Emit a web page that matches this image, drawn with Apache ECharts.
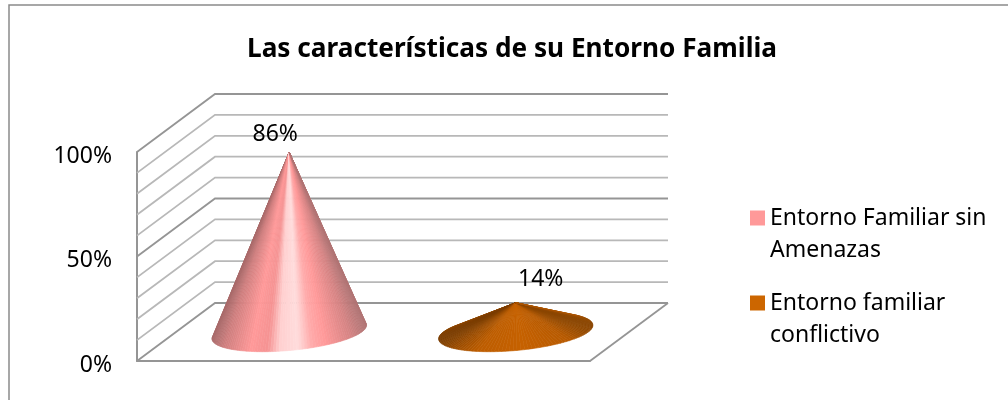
<!DOCTYPE html>
<html>
<head>
<meta charset="utf-8">
<style>
  html, body { margin: 0; padding: 0; background: #fff; }
  #main { width: 1008px; height: 400px; }
</style>
<script src="https://cdn.jsdelivr.net/npm/echarts@6/dist/echarts.min.js"></script>
</head>
<body>
<div id="main"></div>
<script>
var categories = ['Entorno Familiar sin Amenazas', 'Entorno familiar conflictivo'];
var legendNames = ['\nEntorno Familiar sin\nAmenazas', '\nEntorno familiar\nconflictivo'];
var values = [86, 14];
var wallTicks = [0, 10, 20, 30, 40, 50, 60, 70, 80, 90, 100];
var majorTicks = [0, 50, 100];

var FONT = '"Noto Sans", sans-serif';
var DEPTH = [78, -58];          // desplazamiento del plano frontal a la pared del fondo
var RADIUS_X = 0.32;            // radio de la base respecto a la banda
var RADIUS_DEPTH = 0.34;

// color segun la posicion horizontal en la base, de izquierda a derecha
var shades = [
  [[0, '#a86a6a'], [0.08, '#cf7e7e'], [0.25, '#ff9999'], [0.36, '#f59292'], [0.44, '#ffd0d0'],
   [0.56, '#ffdcdc'], [0.65, '#ffaaaa'], [0.74, '#ff9999'], [0.9, '#d68484'], [1, '#b07474']],
  [[0, '#7a3c00'], [0.1, '#9a4c00'], [0.25, '#bd5d00'], [0.55, '#c66100'], [0.85, '#b85a00'], [1, '#8a4500']]
];
var seriesColors = ['#ff9999', '#cc6600'];
var labelOffsets = [[-14, -18], [25, -23]];

function hex(c) {
  return [parseInt(c.substr(1, 2), 16), parseInt(c.substr(3, 2), 16), parseInt(c.substr(5, 2), 16)];
}
function shadeAt(stops, t) {
  for (var i = 1; i < stops.length; i++) {
    if (t <= stops[i][0]) {
      var k = (t - stops[i - 1][0]) / (stops[i][0] - stops[i - 1][0]);
      var a = hex(stops[i - 1][1]), b = hex(stops[i][1]);
      return 'rgb(' + Math.round(a[0] + (b[0] - a[0]) * k) + ',' + Math.round(a[1] + (b[1] - a[1]) * k) + ',' + Math.round(a[2] + (b[2] - a[2]) * k) + ')';
    }
  }
  return stops[stops.length - 1][1];
}

function renderWall(params, api) {
  var v = api.value(0);
  var left = api.coord([0, v]);
  var band = api.size([1, 0])[0];
  var x0 = left[0] - band / 2;
  var major = majorTicks.indexOf(v) >= 0;
  var children = [{
    type: 'polyline',
    shape: { points: [[x0, left[1]], [x0 + DEPTH[0], left[1] + DEPTH[1]], [x0 + band * 2 + DEPTH[0], left[1] + DEPTH[1]]] },
    style: { fill: null, stroke: major ? '#959595' : '#b8b8b8', lineWidth: 1.8 }
  }];
  if (v === 0) {
    children.push({
      type: 'line',
      shape: { x1: x0 + band * 2, y1: left[1], x2: x0 + band * 2 + DEPTH[0], y2: left[1] + DEPTH[1] },
      style: { stroke: '#959595', lineWidth: 1.8 }
    });
  }
  return { type: 'group', silent: true, children: children };
}

function renderCone(idx) {
  return function (params, api) {
    var cat = api.value(0), val = api.value(1);
    var top = api.coord([cat, val]);
    var base = api.coord([cat, 0]);
    var band = api.size([1, 0])[0];
    var cx = base[0] + DEPTH[0] / 2, cy = base[1] + DEPTH[1] / 2;
    var tip = [top[0] + DEPTH[0] / 2, top[1] + DEPTH[1] / 2];
    var rx = band * RADIUS_X;
    var vx = DEPTH[0] * RADIUS_DEPTH, vy = DEPTH[1] * RADIUS_DEPTH;
    function pt(a) {
      return [cx + rx * Math.cos(a) + vx * Math.sin(a), cy + vy * Math.sin(a)];
    }
    // tangentes desde la punta: se busca el arco visible recorriendo la elipse
    var N = 240, startA = null, endA = null, prev = null;
    for (var i = 0; i <= N; i++) {
      var a = Math.PI * 2 * i / N;
      var p = pt(a), d = [-rx * Math.sin(a) + vx * Math.cos(a), vy * Math.cos(a)];
      var c = (p[0] - tip[0]) * d[1] - (p[1] - tip[1]) * d[0];
      if (prev !== null && prev * c < 0) {
        if (c > prev) { startA = a; } else { endA = a; }
      }
      prev = c;
    }
    var a0 = startA, a1 = endA;
    if (pt(a0)[0] > pt(a1)[0]) { var s = a0; a0 = a1; a1 = s; }
    var sweep = a1 - a0;
    // recorrido de izquierda a derecha pasando por el frente
    var mid = a0 + sweep / 2;
    if (Math.sin(mid) > 0) { sweep = sweep > 0 ? sweep - Math.PI * 2 : sweep + Math.PI * 2; }
    var children = [];
    var STEPS = 90;
    // extremos reales de la elipse, la tangente puede quedar por dentro
    var halfW = Math.sqrt(rx * rx + vx * vx);
    var xL = cx - halfW, xR = cx + halfW;
    for (var j = 0; j < STEPS; j++) {
      var t0 = a0 + sweep * j / STEPS, t1 = a0 + sweep * (j + 1) / STEPS;
      var p0 = pt(t0), p1 = pt(t1);
      var col = shadeAt(shades[idx], Math.min(1, Math.max(0, ((p0[0] + p1[0]) / 2 - xL) / (xR - xL))));
      children.push({
        type: 'polygon',
        shape: { points: [tip, p0, p1] },
        style: { fill: col, stroke: col, lineWidth: 0.6 }
      });
    }
    children.push({
      type: 'text',
      style: {
        text: val + '%', x: tip[0] + labelOffsets[idx][0], y: tip[1] + labelOffsets[idx][1],
        align: 'center', verticalAlign: 'middle', fontFamily: FONT, fontSize: 23, fill: '#000'
      }
    });
    return { type: 'group', children: children };
  };
}

var chart = echarts.init(document.getElementById('main'), null, { renderer: 'canvas' });

chart.setOption({
  animation: false,
  backgroundColor: '#fff',
  title: {
    text: 'Las características de su Entorno Familia',
    left: 507, top: 32, textAlign: 'center',
    textStyle: { fontFamily: FONT, fontWeight: 'bold', fontSize: 26.2, color: '#000' }
  },
  graphic: [{
    type: 'rect', silent: true, z: -10,
    shape: { x: 9, y: 5, width: 1060, height: 460 },
    style: { fill: null, stroke: '#8a8a8a', lineWidth: 1.5 }
  }],
  legend: {
    data: categories,
    orient: 'vertical',
    left: 750, top: 170, height: 300,
    padding: 0,
    icon: 'rect',
    itemWidth: 15, itemHeight: 15, itemGap: -11,
    selectedMode: false,
    formatter: function (name) { return legendNames[categories.indexOf(name)]; },
    textStyle: { fontFamily: FONT, fontSize: 23, lineHeight: 32, color: '#000' }
  },
  grid: { left: 137, right: 418, top: 152, bottom: 39 },
  xAxis: {
    type: 'category',
    data: categories,
    axisTick: { show: false },
    axisLabel: { show: false },
    axisLine: { lineStyle: { color: '#959595', width: 2 } }
  },
  yAxis: {
    type: 'value',
    min: 0, max: 100, interval: 50,
    axisTick: { show: false },
    splitLine: { show: false },
    axisLine: { show: true, lineStyle: { color: '#959595', width: 2 } },
    axisLabel: {
      margin: 25,
      formatter: '{t|{value}%}',
      rich: { t: { padding: [8, 0, 0, 0], fontFamily: FONT, fontSize: 23, color: '#000' } }
    }
  },
  series: [{
    type: 'custom',
    name: 'paredes',
    silent: true,
    coordinateSystem: 'cartesian2d',
    data: wallTicks.map(function (v) { return [v]; }),
    encode: { y: 0 },
    renderItem: renderWall,
    z: 1
  }, {
    type: 'custom',
    name: categories[0],
    coordinateSystem: 'cartesian2d',
    itemStyle: { color: seriesColors[0] },
    data: [[0, values[0]]],
    renderItem: renderCone(0),
    z: 3
  }, {
    type: 'custom',
    name: categories[1],
    coordinateSystem: 'cartesian2d',
    itemStyle: { color: seriesColors[1] },
    data: [[1, values[1]]],
    renderItem: renderCone(1),
    z: 3
  }]
});
</script>
</body>
</html>
